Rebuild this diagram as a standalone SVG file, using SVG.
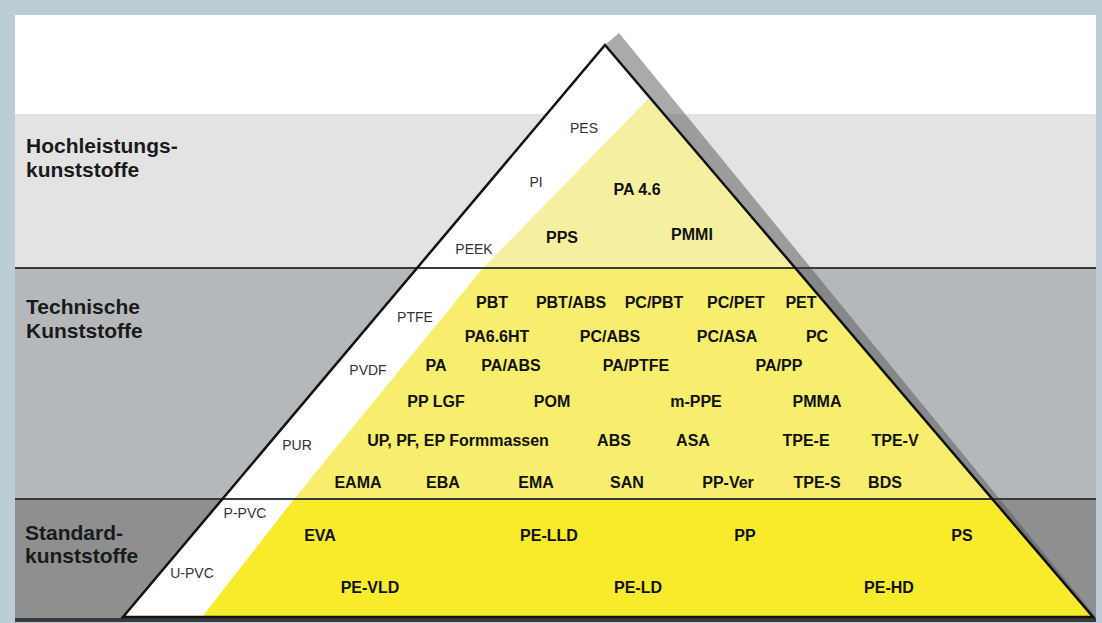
<svg xmlns="http://www.w3.org/2000/svg" width="1102" height="623" viewBox="0 0 1102 623">
<style>
.band-label{font-family:"Liberation Sans",Arial,sans-serif;font-weight:bold;font-size:21px;fill:#1a1a1a}
.grey{font-family:"Liberation Sans",Arial,sans-serif;font-size:14px;fill:#333;text-anchor:middle}
.bold{font-family:"Liberation Sans",Arial,sans-serif;font-weight:bold;font-size:16px;fill:#111;text-anchor:middle}
.sep{stroke:#3a3a3a;stroke-width:2}
</style>
<g id="background">
<rect x="0" y="0" width="1102" height="623" fill="#bdccd5"/>
<rect x="15" y="15" width="1081" height="99" fill="#ffffff"/>
<rect x="15" y="114" width="1081" height="154" fill="#e3e3e3"/>
<rect x="15" y="268" width="1081" height="231" fill="#b5b8ba"/>
<rect x="15" y="499" width="1081" height="120" fill="#8e8f90"/>
</g>
<g id="pyramid">
<polygon points="605,45 619,33 1096,617 1093,617" fill="#555" fill-opacity="0.5"/>
<polygon points="605,45 1093,617 123,617" fill="#ffffff"/>
<polygon points="650,97 483,268 795,268" fill="#f5f0a0"/>
<polygon points="483,268 294,499 992,499 795,268" fill="#f6ee6c"/>
<polygon points="294,499 202,617 1093,617 992,499" fill="#f8eb2c"/>
</g>
<g id="connectors">
<line class="sep" x1="15" y1="268" x2="1096" y2="268"/>
<line class="sep" x1="15" y1="499" x2="1096" y2="499"/>
<line x1="15" y1="620" x2="1096" y2="620" stroke="#3a3a3a" stroke-width="4"/>
<polygon points="605,45 1093,617 123,617" fill="none" stroke="#111" stroke-width="2.5" stroke-linejoin="miter"/>
</g>
<g id="band-labels">
<text class="band-label" x="26" y="153">Hochleistungs-</text>
<text class="band-label" x="26" y="177">kunststoffe</text>
<text class="band-label" x="26" y="314">Technische</text>
<text class="band-label" x="26" y="338">Kunststoffe</text>
<text class="band-label" x="25" y="540">Standard-</text>
<text class="band-label" x="25" y="563">kunststoffe</text>
</g>
<g id="special-plastics">
<text class="grey" x="584" y="133">PES</text>
<text class="grey" x="536" y="187">PI</text>
<text class="grey" x="474" y="254">PEEK</text>
<text class="grey" x="415" y="322">PTFE</text>
<text class="grey" x="368" y="375">PVDF</text>
<text class="grey" x="297" y="450">PUR</text>
<text class="grey" x="245" y="518">P-PVC</text>
<text class="grey" x="192" y="578">U-PVC</text>
</g>
<g id="high-performance">
<text class="bold" x="637" y="195">PA 4.6</text>
<text class="bold" x="562" y="243">PPS</text>
<text class="bold" x="692" y="240">PMMI</text>
</g>
<g id="engineering">
<text class="bold" x="492" y="308">PBT</text>
<text class="bold" x="571" y="308">PBT/ABS</text>
<text class="bold" x="654" y="308">PC/PBT</text>
<text class="bold" x="736" y="308">PC/PET</text>
<text class="bold" x="801" y="308">PET</text>
<text class="bold" x="497" y="342">PA6.6HT</text>
<text class="bold" x="610" y="342">PC/ABS</text>
<text class="bold" x="727" y="342">PC/ASA</text>
<text class="bold" x="817" y="342">PC</text>
<text class="bold" x="436" y="371">PA</text>
<text class="bold" x="511" y="371">PA/ABS</text>
<text class="bold" x="636" y="371">PA/PTFE</text>
<text class="bold" x="779" y="371">PA/PP</text>
<text class="bold" x="436" y="407">PP LGF</text>
<text class="bold" x="552" y="407">POM</text>
<text class="bold" x="696" y="407">m-PPE</text>
<text class="bold" x="817" y="407">PMMA</text>
<text class="bold" x="458" y="446">UP, PF, EP Formmassen</text>
<text class="bold" x="614" y="446">ABS</text>
<text class="bold" x="693" y="446">ASA</text>
<text class="bold" x="806" y="446">TPE-E</text>
<text class="bold" x="895" y="446">TPE-V</text>
<text class="bold" x="358" y="488">EAMA</text>
<text class="bold" x="443" y="488">EBA</text>
<text class="bold" x="536" y="488">EMA</text>
<text class="bold" x="627" y="488">SAN</text>
<text class="bold" x="728" y="488">PP-Ver</text>
<text class="bold" x="817" y="488">TPE-S</text>
<text class="bold" x="885" y="488">BDS</text>
</g>
<g id="standard">
<text class="bold" x="320" y="541">EVA</text>
<text class="bold" x="549" y="541">PE-LLD</text>
<text class="bold" x="745" y="541">PP</text>
<text class="bold" x="962" y="541">PS</text>
<text class="bold" x="370" y="593">PE-VLD</text>
<text class="bold" x="638" y="593">PE-LD</text>
<text class="bold" x="889" y="593">PE-HD</text>
</g>
</svg>
